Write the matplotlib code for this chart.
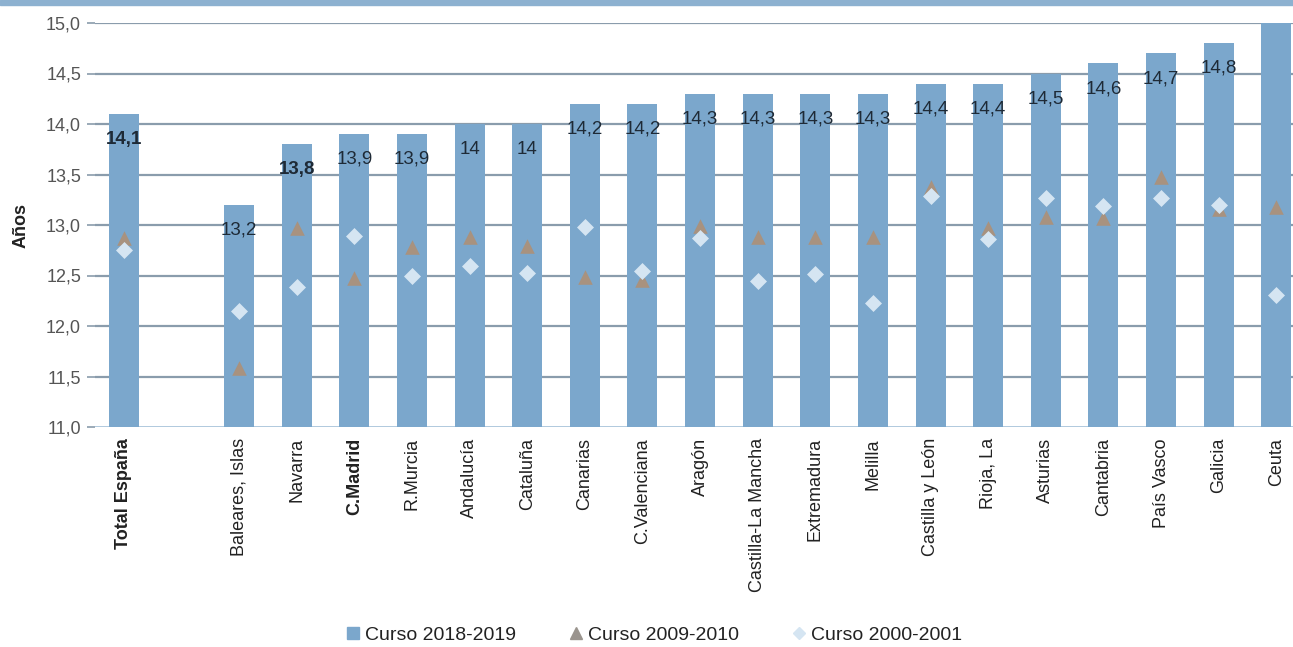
import matplotlib
matplotlib.use("Agg")
import matplotlib.pyplot as plt
from matplotlib.lines import Line2D
from matplotlib.patches import Rectangle
import numpy as np

plt.rcParams['font.family'] = ['Liberation Sans Narrow', 'Liberation Sans', 'DejaVu Sans']

categories = ["Total España", "", "Baleares, Islas", "Navarra", "C.Madrid", "R.Murcia",
              "Andalucía", "Cataluña", "Canarias", "C.Valenciana", "Aragón",
              "Castilla-La Mancha", "Extremadura", "Melilla", "Castilla y León",
              "Rioja, La", "Asturias", "Cantabria", "País Vasco", "Galicia", "Ceuta"]
curso_2018 = [14.1, None, 13.2, 13.8, 13.9, 13.9, 14.0, 14.0, 14.2, 14.2, 14.3,
              14.3, 14.3, 14.3, 14.4, 14.4, 14.5, 14.6, 14.7, 14.8, 15.0]
bar_labels = ["14,1", "", "13,2", "13,8", "13,9", "13,9", "14", "14", "14,2", "14,2", "14,3",
              "14,3", "14,3", "14,3", "14,4", "14,4", "14,5", "14,6", "14,7", "14,8", ""]
curso_2009 = [12.87, None, 11.58, 12.97, 12.48, 12.78, 12.88, 12.79, 12.49, 12.46, 12.99,
              12.88, 12.88, 12.88, 13.38, 12.97, 13.08, 13.07, 13.48, 13.16, 13.18]
curso_2000 = [12.75, None, 12.15, 12.39, 12.89, 12.50, 12.59, 12.52, 12.98, 12.54, 12.87,
              12.45, 12.51, 12.23, 13.29, 12.86, 13.27, 13.19, 13.27, 13.20, 12.31]
bold_cats = {"Total España", "C.Madrid"}
bold_labels = {"14,1", "13,8"}

BAR = "#7BA7CC"
TRI = "#A8927F"
DIA = "#D5E5F2"
GRID = "#8A9CAC"

fig = plt.figure(figsize=(12.93, 6.47), dpi=100)
ax = fig.add_axes([95/1293, 220/647, 1 - 95/1293, 404/647])

x = np.arange(len(categories))
mask = [v is not None for v in curso_2018]
xb = x[mask]
yb = np.array([v for v in curso_2018 if v is not None])
ax.bar(xb, yb - 11.0, bottom=11.0, width=0.52, color=BAR, zorder=2)

for xi, v, lab in zip(x, curso_2018, bar_labels):
    if v is None or not lab:
        continue
    ax.text(xi, v - 0.25, lab, ha="center", va="center", fontsize=13.5,
            color="#1e2a36", fontweight="bold" if lab in bold_labels else "normal", zorder=5)

y09 = np.array([v for v in curso_2009 if v is not None])
y00 = np.array([v for v in curso_2000 if v is not None])
ax.scatter(xb, y09, marker="^", s=110, color=TRI, zorder=3, linewidths=0)
ax.scatter(xb, y00, marker="D", s=75, color=DIA, zorder=4, linewidths=0)

ax.set_ylim(11.0, 15.0)
ax.set_xlim(-0.5, 20.29)
ticks = np.arange(11.0, 15.01, 0.5)
ax.set_yticks(ticks)
ax.set_yticklabels([f"{t:.1f}".replace(".", ",") for t in ticks], fontsize=13, color="#555555")
for t in ticks[1:]:
    ax.axhline(t, color=GRID, lw=1.6, zorder=1)
ax.axhline(11.0, color="#A9C4DA", lw=2.0, zorder=1)

ax.set_xticks(x)
ax.set_xticklabels(categories, rotation=90, fontsize=13, color="#222222")
for lbl in ax.get_xticklabels():
    if lbl.get_text() in bold_cats:
        lbl.set_fontweight("bold")
ax.tick_params(axis="x", length=0, pad=8)
ax.tick_params(axis="y", length=6, color=GRID, width=1.2, pad=4)
for s in ax.spines.values():
    s.set_visible(False)

ax.set_ylabel("Años", fontsize=13, fontweight="bold", color="#222222", labelpad=12)

fig.patches.append(Rectangle((0, 1 - 5/647), 1, 5/647, transform=fig.transFigure,
                             color="#8DB1D0", zorder=0))

handles = [Line2D([], [], marker="s", ls="", color=BAR, markersize=8),
           Line2D([], [], marker="^", ls="", color="#9A948E", markersize=9),
           Line2D([], [], marker="D", ls="", color=DIA, markersize=6)]
fig.legend(handles, ["Curso 2018-2019", "Curso 2009-2010", "Curso 2000-2001"],
           loc="center", bbox_to_anchor=(0.505, 12/647), ncol=3, frameon=False,
           fontsize=14, handletextpad=0.1, columnspacing=2.6, handlelength=1.0,
           labelcolor="#222222")

fig.savefig("out.png", dpi=100)
